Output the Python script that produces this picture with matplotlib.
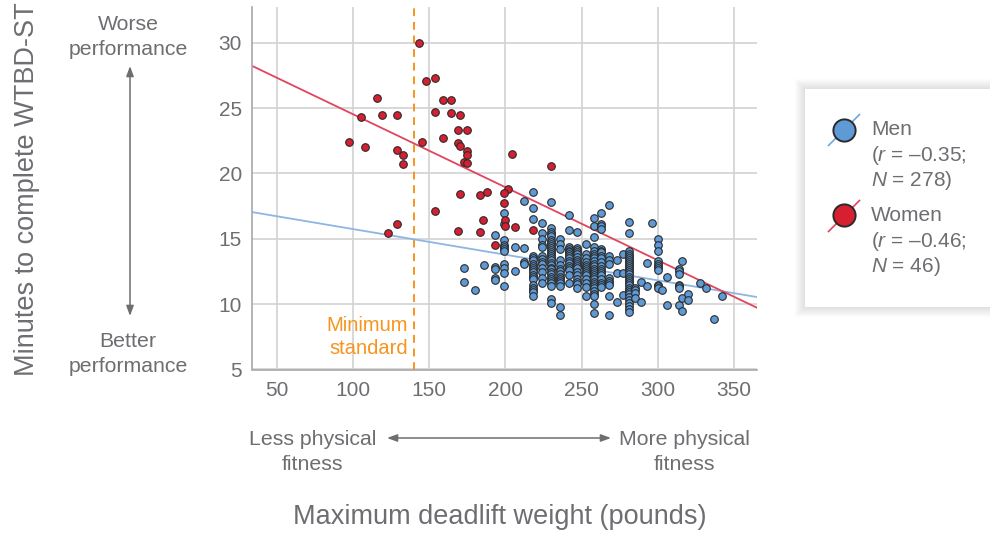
import matplotlib.pyplot as plt
from matplotlib.patches import Rectangle
from matplotlib.lines import Line2D

plt.rcParams["font.family"] = ["Liberation Sans", "DejaVu Sans"]
plt.rcParams["mathtext.fontset"] = "custom"
plt.rcParams["mathtext.rm"] = "Liberation Sans"
plt.rcParams["mathtext.it"] = "Liberation Sans:italic"

GREY = "#6d6e71"
BLUE = "#5e9ad5"
RED = "#d61f31"
ORANGE = "#f7941d"
EDGE = "#2a2a2a"

# deadlift (lb) and completion time (min)
women_weight = [143, 148, 154, 116, 159, 164, 105, 119, 129, 154, 164, 170,
                169, 175, 97, 108, 145, 159, 169, 170, 129, 133, 133, 175,
                175, 173, 175, 202, 170, 183, 188, 199, 199, 154, 200, 200,
                185, 129, 123, 169, 183, 193, 206, 218, 204, 230]
women_minutes = [30.0, 27.1, 27.3, 25.8, 25.6, 25.6, 24.3, 24.5, 24.5, 24.7, 24.6, 24.5,
                 23.3, 23.3, 22.4, 22.0, 22.4, 22.7, 22.3, 22.1, 21.8, 21.4, 20.7, 21.75,
                 21.4, 20.9, 20.8, 18.8, 18.4, 18.35, 18.6, 18.5, 17.7, 17.1, 16.4, 16.0,
                 16.4, 16.1, 15.45, 15.6, 15.5, 14.55, 15.9, 15.65, 21.5, 20.6]

men_lifts = [173, 180, 186, 193, 199, 206, 212, 218, 224, 230, 236, 242, 247, 253,
             258, 263, 268, 273, 277, 281, 285, 289, 293, 296, 300, 303, 306, 314,
             316, 320, 328, 332, 337, 342]
men_minutes = [
    [12.8, 11.7],
    [11.05],
    [13.0],
    [15.25, 12.85, 12.7, 12.0, 11.85],
    [17.0, 16.1, 14.9, 14.55, 14.4, 14.25, 14.1, 13.1, 12.75, 12.4, 11.4],
    [14.4, 12.5],
    [17.9, 14.3, 13.2, 13.05],
    [18.6, 17.35, 16.5, 13.7, 13.55, 13.35, 13.1, 12.95, 12.8, 12.6, 12.45, 12.2,
     12.05, 11.9, 11.5, 11.25, 11.1, 10.9, 10.6],
    [16.2, 15.45, 14.95, 14.5, 14.4, 13.7, 13.45, 13.2, 13.1, 12.8, 12.45, 12.0, 11.6],
    [17.85, 15.8, 15.5, 15.35, 15.2, 14.9, 14.75, 14.6, 14.45, 14.3, 14.15, 14.0,
     13.85, 13.7, 13.5, 13.35, 13.15, 13.0, 12.8, 12.65, 12.45, 12.3, 12.1, 11.95,
     11.75, 11.6, 11.4, 10.4, 10.1],
    [15.0, 14.6, 14.2, 13.35, 13.0, 12.7, 12.5, 12.3, 12.1, 11.95, 11.8, 11.6, 11.4,
     9.8, 9.2],
    [16.8, 15.65, 14.4, 14.25, 14.1, 13.95, 13.8, 13.65, 13.5, 13.3, 13.15, 12.95,
     12.8, 12.6, 12.2, 11.65],
    [15.5, 14.3, 14.15, 14.0, 13.8, 13.6, 13.4, 13.25, 13.1, 12.9, 12.75, 12.45,
     12.2, 11.95, 11.7, 11.55, 11.25],
    [14.6, 13.8, 13.5, 13.2, 13.0, 12.85, 12.7, 12.55, 12.4, 12.2, 11.9, 11.6, 11.3, 10.6],
    [16.6, 15.95, 15.1, 14.4, 14.1, 13.8, 13.65, 13.5, 13.3, 13.1, 12.9, 12.7, 12.55,
     12.4, 12.25, 12.1, 11.9, 11.7, 11.55, 11.4, 11.2, 11.0, 10.8, 10.6, 10.0, 9.35],
    [16.95, 16.1, 16.0, 15.75, 14.25, 14.1, 13.95, 13.7, 13.5, 13.2, 12.9, 12.7,
     12.5, 12.35, 12.2, 11.9, 11.6, 11.45, 11.3],
    [17.6, 13.7, 13.4, 13.1, 12.0, 11.8, 11.6, 11.5, 10.6, 9.2],
    [13.4, 12.4, 10.2],
    [13.85, 12.4, 10.7],
    [16.25, 15.45, 14.05, 13.85, 13.7, 13.55, 13.4, 13.25, 13.1, 12.95, 12.8, 12.6,
     12.45, 12.3, 12.1, 11.95, 11.8, 11.6, 11.45, 11.25, 11.1, 10.9, 10.75, 10.55,
     10.3, 10.1, 9.85, 9.6, 9.4],
    [11.25, 11.05, 10.85, 10.45],
    [11.7, 10.15],
    [13.15, 11.4],
    [16.2],
    [15.0, 14.5, 14.05, 13.3, 13.1, 12.9, 12.75, 12.6, 11.5, 11.35, 11.2],
    [11.1],
    [12.05, 9.9],
    [12.7, 12.5, 12.3, 11.5, 11.4, 11.25, 9.95],
    [13.3, 10.5, 9.5],
    [10.75, 10.3],
    [11.6],
    [11.2],
    [8.9],
    [10.6],
]

# regression lines: intercept, slope
men_fit = (17.70, -0.0196)
women_fit = (30.10, -0.0558)
men_r, women_r = "0.35", "0.46"
min_standard = 140

x_ticks = [50, 100, 150, 200, 250, 300, 350]
y_ticks = [5, 10, 15, 20, 25, 30]

men_x = [w for w, col in zip(men_lifts, men_minutes) for _ in col]
men_y = [m for col in men_minutes for m in col]

W, H = 990, 534
fig = plt.figure(figsize=(W / 100, H / 100), dpi=100)


def fx(px):
    return px / W


def fy(py):
    return 1 - py / H


ax = fig.add_axes([fx(251.7), fy(369.5), fx(757) - fx(251.7), fy(6.7) - fy(369.5)])
ax.set_xlim(33.4, 365.2)
ax.set_ylim(5, 32.75)
ax.set_xticks(x_ticks)
ax.set_yticks(y_ticks)
ax.grid(True, color="#d2d2d2", lw=1.2)
ax.set_axisbelow(True)
for s in ("top", "right"):
    ax.spines[s].set_visible(False)
for s in ("left", "bottom"):
    ax.spines[s].set_color("#a8a8a8")
    ax.spines[s].set_linewidth(1.2)
ax.tick_params(length=0, labelsize=15, labelcolor=GREY)
ax.tick_params(axis="x", pad=8)
ax.tick_params(axis="y", pad=7)

# minimum standard
ax.axvline(min_standard, color=ORANGE, lw=1.4, ls=(0, (4, 3)), zorder=2)
ax.text(min_standard - 4, 7.5, "Minimum\nstandard", color=ORANGE, fontsize=14.5,
        ha="right", va="center", linespacing=1.3)

# fitted lines across the full axis width
x0, x1 = ax.get_xlim()
ax.plot([x0, x1], [men_fit[0] + men_fit[1] * x0, men_fit[0] + men_fit[1] * x1],
        color="#8db6e3", lw=1.3, zorder=2)
ax.plot([x0, x1], [women_fit[0] + women_fit[1] * x0, women_fit[0] + women_fit[1] * x1],
        color="#e2445d", lw=1.3, zorder=2)

ax.scatter(men_x, men_y, s=30, color=BLUE, edgecolor=EDGE, linewidth=0.8, zorder=3)
ax.scatter(women_weight, women_minutes, s=30, color=RED, edgecolor=EDGE,
           linewidth=0.8, zorder=4)

# axis titles and direction hints
fig.text(fx(27), fy(189), "Minutes to complete WTBD-ST", rotation=90,
         ha="center", va="center", fontsize=19.5, color=GREY)
hint = dict(ha="center", va="center", fontsize=15.3, color=GREY, linespacing=1.4)
fig.text(fx(128), fy(37), "Worse\nperformance", **hint)
fig.text(fx(128), fy(354), "Better\nperformance", **hint)
fig.text(fx(313), fy(452), "Less physical\nfitness", **hint)
fig.text(fx(684), fy(452), "More physical\nfitness", **hint)
fig.text(fx(500), fy(517), "Maximum deadlift weight (pounds)", ha="center",
         va="center", fontsize=19.5, color=GREY)

arrow = dict(arrowstyle="<|-|>,head_length=0.6,head_width=0.22", color=GREY, lw=1.1,
             shrinkA=0, shrinkB=0)
fig.add_artist(plt.Annotation("", xy=(fx(130), fy(66)), xytext=(fx(130), fy(316)),
                              xycoords="figure fraction", textcoords="figure fraction",
                              arrowprops=arrow))
fig.add_artist(plt.Annotation("", xy=(fx(387), fy(438)), xytext=(fx(611), fy(438)),
                              xycoords="figure fraction", textcoords="figure fraction",
                              arrowprops=arrow))

# legend panel with soft shadow
for g in range(10, 0, -1):
    fig.add_artist(Rectangle((fx(805 - g), fy(307 + g)), fx(200), (fy(89 - g) - fy(307 + g)),
                             transform=fig.transFigure, facecolor="black", alpha=0.012,
                             edgecolor="none", zorder=5))
fig.add_artist(Rectangle((fx(805), fy(307)), fx(200), fy(89) - fy(307),
                         transform=fig.transFigure, facecolor="white",
                         edgecolor="none", zorder=6))

for cy, fill, line_c, label, r, n in [
    (129.5, BLUE, "#6fa6de", "Men", men_r, len(men_x)),
    (215.5, RED, "#e2445d", "Women", women_r, len(women_weight)),
]:
    fig.add_artist(Line2D([fx(828.5), fx(859.5)], [fy(cy + 16), fy(cy - 15)],
                          transform=fig.transFigure, color=line_c, lw=1.2, zorder=7))
    fig.add_artist(Line2D([fx(844.3)], [fy(cy)], transform=fig.transFigure, marker="o",
                          markersize=16, markerfacecolor=fill, markeredgecolor=EDGE,
                          markeredgewidth=1.4, zorder=8))
    fig.text(fx(871), fy(cy), label, ha="left", va="center", fontsize=15,
             color=GREY, zorder=9)
    fig.text(fx(871), fy(cy + 26), f"($\\mathit{{r}}$ = \u2013{r};", ha="left",
             va="center", fontsize=15, color=GREY, zorder=9)
    fig.text(fx(871), fy(cy + 51), f"$\\mathit{{N}}$ = {n})", ha="left", va="center",
             fontsize=15, color=GREY, zorder=9)

fig.savefig("out.png", dpi=100)
